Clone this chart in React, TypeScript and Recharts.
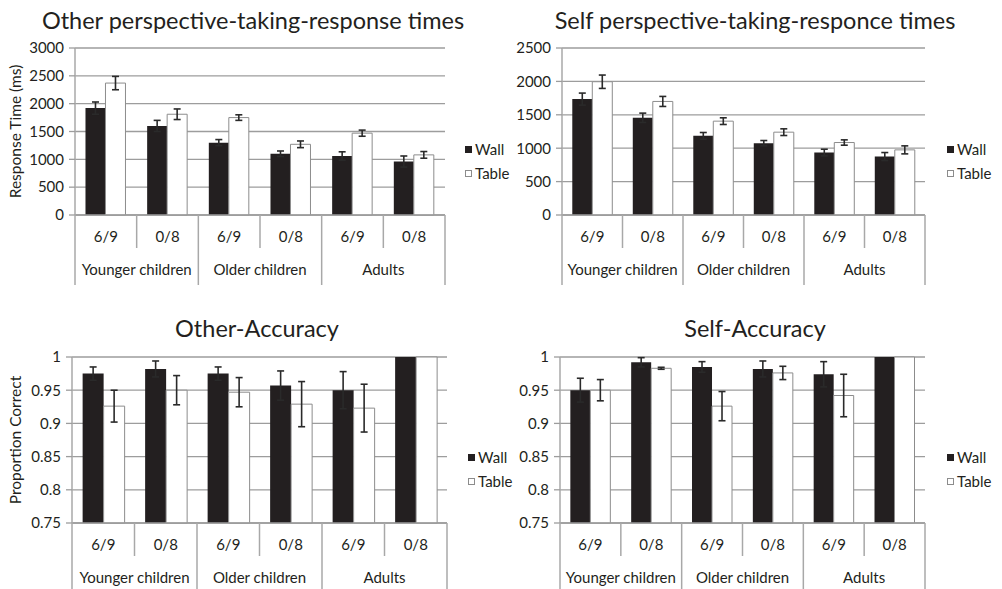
import { BarChart, Bar, XAxis, YAxis, CartesianGrid, ErrorBar } from "recharts";

const subCategories = ["6/9", "0/8", "6/9", "0/8", "6/9", "0/8"];
const groups = ["Younger children", "Older children", "Adults"];

// Other perspective-taking response times (ms)
const otherRtWall = [1920, 1600, 1300, 1100, 1060, 960];
const otherRtWallErr = [110, 100, 55, 50, 75, 100];
const otherRtTable = [2370, 1810, 1750, 1270, 1470, 1080];
const otherRtTableErr = [120, 95, 50, 60, 55, 60];

// Self perspective-taking response times (ms)
const selfRtWall = [1735, 1455, 1185, 1075, 935, 875];
const selfRtWallErr = [90, 70, 50, 40, 50, 60];
const selfRtTable = [1995, 1700, 1405, 1240, 1085, 975];
const selfRtTableErr = [100, 75, 50, 50, 40, 60];

// Other accuracy (proportion correct)
const otherAccWall = [0.975, 0.982, 0.975, 0.957, 0.95, 1];
const otherAccWallErr = [0.01, 0.012, 0.01, 0.022, 0.028, 0];
const otherAccTable = [0.926, 0.95, 0.947, 0.929, 0.923, 1];
const otherAccTableErr = [0.024, 0.022, 0.022, 0.034, 0.036, 0];

// Self accuracy (proportion correct)
const selfAccWall = [0.95, 0.992, 0.985, 0.982, 0.974, 1];
const selfAccWallErr = [0.018, 0.007, 0.008, 0.012, 0.019, 0];
const selfAccTable = [0.95, 0.983, 0.926, 0.976, 0.942, 1];
const selfAccTableErr = [0.016, 0.0015, 0.022, 0.01, 0.032, 0];

const rtTicksOther = [0, 500, 1000, 1500, 2000, 2500, 3000];
const rtTicksSelf = [0, 500, 1000, 1500, 2000, 2500];
const accTicks = [0.75, 0.8, 0.85, 0.9, 0.95, 1];

const FONT = "Lato, 'Open Sans', sans-serif";
const TEXT = "#231f20";
const GRID = "#9d9d9d";
const SEP = "#a8a8a8";

function buildRows(wall: number[], wallErr: number[], table: number[], tableErr: number[]) {
  return subCategories.map((sub, i) => ({
    sub,
    wall: wall[i],
    wallErr: wallErr[i],
    table: table[i],
    tableErr: tableErr[i],
  }));
}

interface PanelProps {
  title: string;
  titleCenter: number;
  titleTop: number;
  left: number;
  top: number;
  width: number;
  height: number;
  yAxisWidth: number;
  marginTop: number;
  marginRight: number;
  marginBottom: number;
  xAxisHeight: number;
  data: ReturnType<typeof buildRows>;
  domain: [number, number];
  ticks: number[];
  yLabel?: string;
  legendLeft: number;
  legendTop: number;
}

function Panel(p: PanelProps) {
  const plotWidth = p.width - p.yAxisWidth - p.marginRight;
  const band = plotWidth / subCategories.length;

  const CategoryTick = (props: any) => {
    const { x, y, payload } = props;
    const i = payload.index;
    const l = x - band / 2;
    const groupStart = i % 2 === 0;
    return (
      <g>
        <line x1={l} y1={y} x2={l} y2={y + (groupStart ? 70 : 33)} stroke={SEP} strokeWidth={1.5} />
        {i === subCategories.length - 1 && (
          <line x1={l + band} y1={y} x2={l + band} y2={y + 70} stroke={SEP} strokeWidth={1.5} />
        )}
        <text x={x} y={y + 27} textAnchor="middle" fontSize={15} fill={TEXT} fontFamily={FONT}>
          {payload.value}
        </text>
        {groupStart && (
          <text x={x + band / 2} y={y + 60} textAnchor="middle" fontSize={15} fill={TEXT} fontFamily={FONT}>
            {groups[i / 2]}
          </text>
        )}
      </g>
    );
  };

  const fmt = (v: number) => (v === 1 ? "1" : String(v));

  return (
    <div style={{ position: "absolute", left: p.left, top: p.top, width: p.width + 62, height: p.height }}>
      <div
        style={{
          position: "absolute",
          left: p.titleCenter - 300,
          top: p.titleTop,
          width: 600,
          textAlign: "center",
          fontFamily: FONT,
          fontSize: 23.5,
          color: TEXT,
          lineHeight: "30px",
          whiteSpace: "nowrap",
        }}
      >
        {p.title}
      </div>
      <div style={{ position: "absolute", left: 0, top: 0 }}>
        <BarChart
          width={p.width}
          height={p.height}
          data={p.data}
          margin={{ top: p.marginTop, right: p.marginRight, bottom: p.marginBottom, left: 0 }}
          barCategoryGap="17%"
          barGap={0}
        >
          <CartesianGrid vertical={false} stroke={GRID} strokeWidth={1.3} />
          <XAxis
            dataKey="sub"
            interval={0}
            height={p.xAxisHeight}
            tickSize={0}
            tickMargin={0}
            tickLine={false}
            axisLine={{ stroke: GRID, strokeWidth: 1.3 }}
            tick={<CategoryTick />}
          />
          <YAxis
            width={p.yAxisWidth}
            domain={p.domain}
            ticks={p.ticks}
            interval={0}
            tickFormatter={fmt}
            tickSize={6}
            tickMargin={5}
            tickLine={{ stroke: GRID, strokeWidth: 1.3 }}
            axisLine={{ stroke: SEP, strokeWidth: 1.5 }}
            tick={{ fontSize: 15, fill: TEXT, fontFamily: FONT }}
            label={
              p.yLabel
                ? {
                    value: p.yLabel,
                    angle: -90,
                    position: "insideLeft",
                    offset: 15,
                    style: { textAnchor: "middle", fontSize: 15.5, fill: TEXT, fontFamily: FONT },
                  }
                : undefined
            }
          />
          <Bar dataKey="wall" name="Wall" fill="#231f20" isAnimationActive={false}>
            <ErrorBar dataKey="wallErr" width={3.5} stroke="#2a2a2a" strokeWidth={1.6} />
          </Bar>
          <Bar dataKey="table" name="Table" fill="#ffffff" stroke="#8c8c8c" strokeWidth={1} isAnimationActive={false}>
            <ErrorBar dataKey="tableErr" width={3.5} stroke="#2a2a2a" strokeWidth={1.6} />
          </Bar>
        </BarChart>
      </div>
      <div style={{ position: "absolute", left: p.legendLeft, top: p.legendTop, fontFamily: FONT, fontSize: 15, color: TEXT }}>
        <div style={{ display: "flex", alignItems: "center", height: 24 }}>
          <span style={{ width: 7, height: 7, background: "#231f20", marginRight: 3 }} />
          Wall
        </div>
        <div style={{ display: "flex", alignItems: "center", height: 24 }}>
          <span style={{ width: 5, height: 5, border: "1px solid #8c8c8c", background: "#fff", marginRight: 3 }} />
          Table
        </div>
      </div>
    </div>
  );
}

export default function App() {
  return (
    <div style={{ position: "absolute", left: 0, top: 0, width: 1002, height: 589, background: "#fff", overflow: "hidden" }}>
      <Panel
        title="Other perspective-taking-response times"
        titleCenter={253}
        titleTop={5}
        left={0}
        top={0}
        width={460}
        height={290}
        yAxisWidth={75}
        marginTop={48}
        marginRight={15}
        marginBottom={5}
        xAxisHeight={70}
        data={buildRows(otherRtWall, otherRtWallErr, otherRtTable, otherRtTableErr)}
        domain={[0, 3000]}
        ticks={rtTicksOther}
        yLabel="Response Time (ms)"
        legendLeft={465}
        legendTop={137}
      />
      <Panel
        title="Self perspective-taking-responce times"
        titleCenter={255}
        titleTop={5}
        left={500}
        top={0}
        width={440}
        height={290}
        yAxisWidth={62}
        marginTop={48}
        marginRight={15}
        marginBottom={5}
        xAxisHeight={70}
        data={buildRows(selfRtWall, selfRtWallErr, selfRtTable, selfRtTableErr)}
        domain={[0, 2500]}
        ticks={rtTicksSelf}
        legendLeft={447}
        legendTop={137}
      />
      <Panel
        title="Other-Accuracy"
        titleCenter={257}
        titleTop={23}
        left={0}
        top={290}
        width={462}
        height={299}
        yAxisWidth={72}
        marginTop={67}
        marginRight={15}
        marginBottom={0}
        xAxisHeight={66}
        data={buildRows(otherAccWall, otherAccWallErr, otherAccTable, otherAccTableErr)}
        domain={[0.75, 1]}
        ticks={accTicks}
        yLabel="Proportion Correct"
        legendLeft={468}
        legendTop={155}
      />
      <Panel
        title="Self-Accuracy"
        titleCenter={255}
        titleTop={23}
        left={500}
        top={290}
        width={440}
        height={299}
        yAxisWidth={60}
        marginTop={67}
        marginRight={15}
        marginBottom={0}
        xAxisHeight={66}
        data={buildRows(selfAccWall, selfAccWallErr, selfAccTable, selfAccTableErr)}
        domain={[0.75, 1]}
        ticks={accTicks}
        legendLeft={447}
        legendTop={155}
      />
    </div>
  );
}
